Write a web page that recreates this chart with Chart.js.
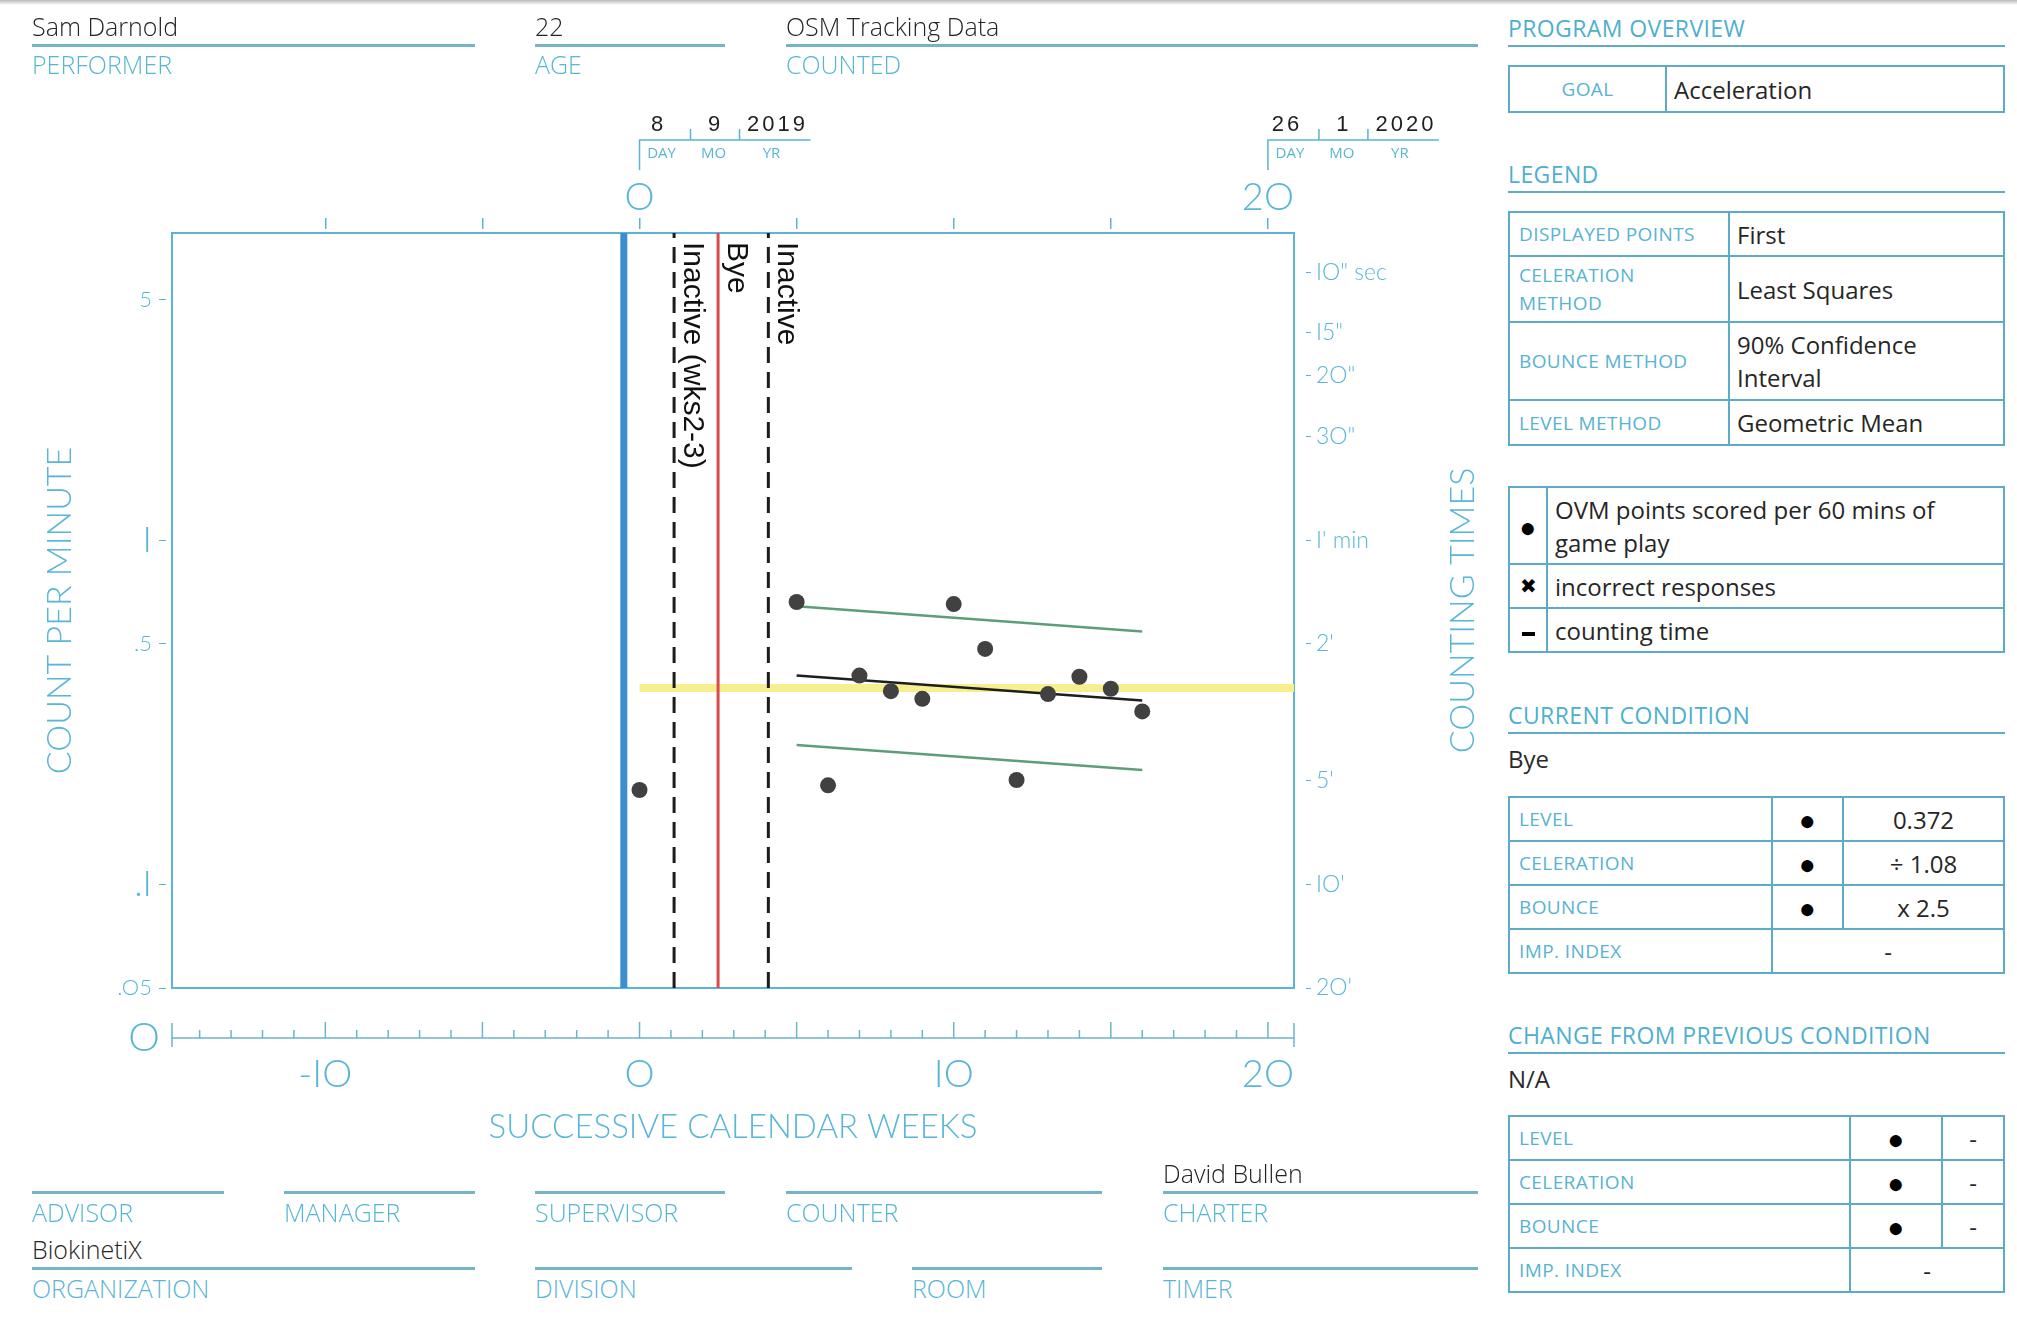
<!DOCTYPE html>
<html>
<head>
<meta charset="utf-8">
<script src="https://cdn.jsdelivr.net/npm/chart.js@4.4.1/dist/chart.umd.min.js"></script>
<style>
  body { margin: 0; width: 2017px; height: 1328px; background: #fff; position: relative; overflow: hidden; font-family: 'Open Sans', sans-serif; }
  #wrap { position: absolute; left: 0; top: 0; width: 1490px; height: 1200px; }
  .shade { position: absolute; left: 0; top: 0; width: 2017px; height: 5px; background: linear-gradient(#b9b9b9, rgba(255,255,255,0)); }
  .t { position: absolute; white-space: nowrap; line-height: 30px; }
  .name { color: #242424; font-size: 25px; font-weight: 300; }
  .field { color: #58b6d5; font-size: 25px; font-weight: 300; }
  .rule { position: absolute; height: 3px; background: #74b4c6; }
  .hd { position: absolute; left: 1508px; line-height: 30px; font-size: 23px; color: #4eafcf; letter-spacing: 0.4px; white-space: nowrap; }
  .hr { position: absolute; left: 1508px; width: 497px; height: 2px; background: #62abc4; }
  .plain { position: absolute; left: 1508px; line-height: 30px; font-size: 24px; color: #2a2a2a; }
  table.box { position: absolute; left: 1508px; width: 497px; border-collapse: collapse; table-layout: fixed; }
  table.box td { border: 2px solid #5eabc9; padding: 0 0 0 9px; vertical-align: middle; }
  table.box td.lab { font-size: 19px; color: #58b3d2; letter-spacing: 0.4px; line-height: 28px; }
  table.box td.val { font-size: 24px; color: #262626; line-height: 33px; padding-left: 7px; }
  table.box td.c { text-align: center; padding: 0; }
  table.box td.sym { text-align: center; padding: 0; font-size: 28px; color: #000; line-height: 28px; }
  .bar { display: inline-block; width: 13px; height: 4px; background: #000; vertical-align: middle; }
</style>
</head>
<body>
<div class="shade"></div>
<div id="wrap"><canvas id="scc" width="1490" height="1200"></canvas></div>

<!-- header -->
<div class="t name" style="left:32px;top:11px">Sam Darnold</div>
<div class="rule" style="left:32px;top:44px;width:443px"></div>
<div class="t field" style="left:32px;top:49px">PERFORMER</div>
<div class="t name" style="left:535px;top:11px">22</div>
<div class="rule" style="left:535px;top:44px;width:190px"></div>
<div class="t field" style="left:535px;top:49px">AGE</div>
<div class="t name" style="left:786px;top:11px">OSM Tracking Data</div>
<div class="rule" style="left:786px;top:44px;width:692px"></div>
<div class="t field" style="left:786px;top:49px">COUNTED</div>

<!-- footer -->
<div class="t name" style="left:1163px;top:1158px">David Bullen</div>
<div class="rule" style="left:32px;top:1191px;width:192px"></div>
<div class="rule" style="left:284px;top:1191px;width:191px"></div>
<div class="rule" style="left:535px;top:1191px;width:190px"></div>
<div class="rule" style="left:786px;top:1191px;width:316px"></div>
<div class="rule" style="left:1163px;top:1191px;width:315px"></div>
<div class="t field" style="left:32px;top:1197px">ADVISOR</div>
<div class="t field" style="left:284px;top:1197px">MANAGER</div>
<div class="t field" style="left:535px;top:1197px">SUPERVISOR</div>
<div class="t field" style="left:786px;top:1197px">COUNTER</div>
<div class="t field" style="left:1163px;top:1197px">CHARTER</div>
<div class="t name" style="left:32px;top:1234px">BiokinetiX</div>
<div class="rule" style="left:32px;top:1267px;width:443px"></div>
<div class="rule" style="left:535px;top:1267px;width:317px"></div>
<div class="rule" style="left:912px;top:1267px;width:190px"></div>
<div class="rule" style="left:1163px;top:1267px;width:315px"></div>
<div class="t field" style="left:32px;top:1273px">ORGANIZATION</div>
<div class="t field" style="left:535px;top:1273px">DIVISION</div>
<div class="t field" style="left:912px;top:1273px">ROOM</div>
<div class="t field" style="left:1163px;top:1273px">TIMER</div>

<!-- right panel -->
<div class="hd" style="top:13px">PROGRAM OVERVIEW</div>
<div class="hr" style="top:45px"></div>
<table class="box" style="top:65px">
  <tr style="height:46px"><td class="lab c" style="width:155px">GOAL</td><td class="val">Acceleration</td></tr>
</table>

<div class="hd" style="top:159px">LEGEND</div>
<div class="hr" style="top:191px"></div>
<table class="box" style="top:211px">
  <tr style="height:44px"><td class="lab" style="width:209px">DISPLAYED POINTS</td><td class="val">First</td></tr>
  <tr style="height:66px"><td class="lab">CELERATION<br>METHOD</td><td class="val">Least Squares</td></tr>
  <tr style="height:78px"><td class="lab">BOUNCE METHOD</td><td class="val">90% Confidence<br>Interval</td></tr>
  <tr style="height:45px"><td class="lab">LEVEL METHOD</td><td class="val">Geometric Mean</td></tr>
</table>

<table class="box" style="top:486px">
  <tr style="height:77px"><td class="sym" style="width:36px">●</td><td class="val">OVM points scored per 60 mins of<br>game play</td></tr>
  <tr style="height:44px"><td class="sym" style="font-size:20px">✖</td><td class="val">incorrect responses</td></tr>
  <tr style="height:44px"><td class="sym"><span class="bar"></span></td><td class="val">counting time</td></tr>
</table>

<div class="hd" style="top:700px">CURRENT CONDITION</div>
<div class="hr" style="top:732px"></div>
<div class="plain" style="top:744px">Bye</div>
<table class="box" style="top:796px">
  <tr style="height:44px"><td class="lab" style="width:252px">LEVEL</td><td class="sym" style="width:69px">●</td><td class="val c">0.372</td></tr>
  <tr style="height:44px"><td class="lab">CELERATION</td><td class="sym">●</td><td class="val c">÷ 1.08</td></tr>
  <tr style="height:44px"><td class="lab">BOUNCE</td><td class="sym">●</td><td class="val c">x 2.5</td></tr>
  <tr style="height:44px"><td class="lab">IMP. INDEX</td><td class="val c" colspan="2">-</td></tr>
</table>

<div class="hd" style="top:1020px">CHANGE FROM PREVIOUS CONDITION</div>
<div class="hr" style="top:1052px"></div>
<div class="plain" style="top:1064px">N/A</div>
<table class="box" style="top:1115px">
  <tr style="height:44px"><td class="lab" style="width:330px">LEVEL</td><td class="sym" style="width:90px">●</td><td class="val c">-</td></tr>
  <tr style="height:44px"><td class="lab">CELERATION</td><td class="sym">●</td><td class="val c">-</td></tr>
  <tr style="height:44px"><td class="lab">BOUNCE</td><td class="sym">●</td><td class="val c">-</td></tr>
  <tr style="height:44px"><td class="lab">IMP. INDEX</td><td class="val c" colspan="2">-</td></tr>
</table>

<script>
// weekly data (weeks since 8/9/2019)
const weeks = [0, 5, 6, 7, 8, 9, 10, 11, 12, 13, 14, 15, 16];
const ovmPoints = [0.188, 0.661, 0.194, 0.404, 0.364, 0.346, 0.652, 0.483, 0.201, 0.357, 0.401, 0.370, 0.318];

const celerationWeeks = [5, 16];
const celerationLine = [0.404, 0.342];
const bounceUpper = [0.642, 0.543];
const bounceLower = [0.254, 0.215];

const levelWeeks = [0, 20.83];
const levelLine = [0.372, 0.372];

const phaseWeeks = [-0.5, 1.1, 2.5, 4.1];
const phaseNames = ['', 'Inactive (wks2-3)', 'Bye', 'Inactive'];

const weekMin = -14.88;
const weekMax = 20.83;
const countMin = 0.05;
const countMax = 7.8;

const bottomTicks = [-10, 0, 10, 20];
const bottomLabels = ['-IO', 'O', 'IO', '2O'];
const topTicks = [-10, -5, 0, 5, 10, 15, 20];
const topLabels = ['', '', 'O', '', '', '', '2O'];
const countTicks = [5, 1, 0.5, 0.1, 0.05];
const countLabels = ['5', 'I', '.5', '.I', '.O5'];
const timeTicks = [6, 4, 3, 2, 1, 0.5, 0.2, 0.1, 0.05];
const timeLabels = ['IO" sec', 'I5"', '2O"', '3O"', "I' min", "2'", "5'", "IO'", "2O'"];

const dateWeeks = [0, 20];
const dateParts = [['8', '9', '2019'], ['26', '1', '2020']];
const dateNames = ['DAY', 'MO', 'YR'];

const blue = '#5ab6d6';
const axisBlue = '#5cb3d4';

const pairs = (xs, ys) => xs.map((v, i) => ({ x: v, y: ys[i] }));

const phaseStyle = [
    { color: '#3d8ecf', width: 7, dash: [] },
    { color: '#1c1c1c', width: 3, dash: [16, 9] },
    { color: '#d9494e', width: 3, dash: [] },
    { color: '#1c1c1c', width: 3, dash: [16, 9] }
];

const datasets = [
    {
        label: 'OVM points scored per 60 mins of game play',
        data: pairs(weeks, ovmPoints),
        pointRadius: 8,
        pointBackgroundColor: '#414141',
        pointBorderWidth: 0
    },
    {
        label: 'celeration',
        data: pairs(celerationWeeks, celerationLine),
        showLine: true, pointRadius: 0,
        borderColor: '#1e1e1e', borderWidth: 2.5
    },
    {
        label: 'upper bounce',
        data: pairs(celerationWeeks, bounceUpper),
        showLine: true, pointRadius: 0,
        borderColor: '#5f9d78', borderWidth: 2.5
    },
    {
        label: 'lower bounce',
        data: pairs(celerationWeeks, bounceLower),
        showLine: true, pointRadius: 0,
        borderColor: '#5f9d78', borderWidth: 2.5
    }
];

phaseWeeks.forEach((w, i) => {
    datasets.push({
        label: phaseNames[i] || 'phase',
        data: [{ x: w, y: countMin }, { x: w, y: countMax }],
        showLine: true, pointRadius: 0,
        borderColor: phaseStyle[i].color,
        borderWidth: phaseStyle[i].width,
        borderDash: phaseStyle[i].dash
    });
});

datasets.push({
    label: 'level',
    data: pairs(levelWeeks, levelLine),
    showLine: true, pointRadius: 0,
    borderColor: '#f7ef8f', borderWidth: 8
});

const decor = {
    id: 'decor',
    afterDraw(chart) {
        const { ctx, chartArea: area, scales: { x, x2 } } = chart;
        ctx.save();

        // secondary weeks line under the chart
        const axisY = area.bottom + 50;
        ctx.strokeStyle = '#6db4ca';
        ctx.lineWidth = 1.5;
        ctx.beginPath();
        ctx.moveTo(area.left, axisY);
        ctx.lineTo(area.right, axisY);
        for (let w = Math.ceil(weekMin); w <= Math.floor(weekMax); w++) {
            const px = x.getPixelForValue(w);
            const h = w % 5 === 0 ? 16 : 8;
            ctx.moveTo(px, axisY);
            ctx.lineTo(px, axisY - h);
        }
        [area.left, area.right].forEach(px => {
            ctx.moveTo(px, axisY - 15);
            ctx.lineTo(px, axisY + 9);
        });
        ctx.stroke();
        ctx.fillStyle = blue;
        ctx.font = '300 40px Lato';
        ctx.textAlign = 'center';
        ctx.textBaseline = 'middle';
        ctx.fillText('O', area.left - 28, axisY);

        // start / end dates
        dateWeeks.forEach((w, i) => {
            const x0 = x2.getPixelForValue(w);
            const lineY = area.top - 93;
            ctx.strokeStyle = '#5ab3d3';
            ctx.lineWidth = 1.5;
            ctx.beginPath();
            ctx.moveTo(x0, area.top - 63);
            ctx.lineTo(x0, lineY);
            ctx.lineTo(x0 + 171, lineY);
            [51, 100].forEach(o => {
                ctx.moveTo(x0 + o, lineY);
                ctx.lineTo(x0 + o, lineY - 11);
            });
            ctx.stroke();
            ctx.fillStyle = '#1f1f1f';
            ctx.font = '22px "Liberation Sans"';
            ctx.letterSpacing = '3px';
            [19, 76, 138].forEach((o, j) => ctx.fillText(dateParts[i][j], x0 + o, area.top - 108));
            ctx.letterSpacing = '0px';
            ctx.fillStyle = blue;
            ctx.font = '15px "Open Sans"';
            [22, 74, 132].forEach((o, j) => ctx.fillText(dateNames[j], x0 + o, area.top - 79));
        });

        // phase change labels
        ctx.fillStyle = '#111';
        ctx.font = '30px "Liberation Sans"';
        ctx.textAlign = 'left';
        phaseWeeks.forEach((w, i) => {
            if (!phaseNames[i]) return;
            ctx.save();
            ctx.translate(x.getPixelForValue(w) + 18, area.top + 9);
            ctx.rotate(Math.PI / 2);
            ctx.fillText(phaseNames[i], 0, 0);
            ctx.restore();
        });

        // counting times title
        ctx.save();
        ctx.translate(area.right + 169, (area.top + area.bottom) / 2);
        ctx.rotate(-Math.PI / 2);
        ctx.textAlign = 'center';
        ctx.fillStyle = blue;
        ctx.font = '300 34px Lato';
        ctx.fillText('COUNTING TIMES', 0, 0);
        ctx.restore();

        ctx.restore();
    }
};

const bigFont = { family: 'Lato', size: 38, weight: '300', lineHeight: 1 };

new Chart(document.getElementById('scc'), {
    type: 'scatter',
    data: { datasets: datasets },
    options: {
        responsive: false,
        animation: false,
        events: [],
        layout: { padding: 0 },
        plugins: { legend: { display: false }, tooltip: { enabled: false } },
        scales: {
            x: {
                type: 'linear', position: 'bottom', min: weekMin, max: weekMax,
                afterBuildTicks: s => { s.ticks = bottomTicks.map(v => ({ value: v })); },
                afterFit: s => { s.height = 212; },
                grid: { display: false, drawTicks: false },
                border: { color: axisBlue, width: 2 },
                ticks: {
                    autoSkip: false, maxRotation: 0, padding: 68, color: blue, font: bigFont,
                    callback: (v, i) => bottomLabels[i]
                },
                title: {
                    display: true, text: 'SUCCESSIVE CALENDAR WEEKS', color: blue,
                    font: { family: 'Lato', size: 33, weight: '300', lineHeight: 1.2 },
                    padding: { top: 0, bottom: 53 }
                }
            },
            x2: {
                type: 'linear', position: 'top', min: weekMin, max: weekMax,
                afterBuildTicks: s => { s.ticks = topTicks.map(v => ({ value: v })); },
                afterFit: s => { s.height = 233; },
                grid: { drawOnChartArea: false, color: axisBlue, lineWidth: 1.5, tickLength: 15, tickBorderDash: [11, 100] },
                border: { color: axisBlue, width: 2 },
                ticks: {
                    autoSkip: false, maxRotation: 0, padding: 1, color: blue, font: bigFont,
                    callback: (v, i) => topLabels[i]
                }
            },
            y: {
                type: 'logarithmic', position: 'left', min: countMin, max: countMax,
                afterBuildTicks: s => { s.ticks = countTicks.map(v => ({ value: v })); },
                afterFit: s => { s.width = 172; },
                grid: { drawOnChartArea: false, color: axisBlue, lineWidth: 1, tickLength: 13, tickBorderDash: [7, 100] },
                border: { color: axisBlue, width: 2 },
                ticks: {
                    autoSkip: false, padding: 7, color: blue,
                    font: c => ({ family: 'Lato', weight: '300', size: (countLabels[c.index] || '').includes('I') ? 36 : 22 }),
                    callback: (v, i) => countLabels[i]
                },
                title: {
                    display: true, text: 'COUNT PER MINUTE', color: blue,
                    font: { family: 'Lato', size: 34, weight: '300', lineHeight: 1.2 },
                    padding: { top: 40, bottom: 0 }
                }
            },
            y2: {
                type: 'logarithmic', position: 'right', min: countMin, max: countMax,
                afterBuildTicks: s => { s.ticks = timeTicks.map(v => ({ value: v })); },
                afterFit: s => { s.width = 196; },
                grid: { drawOnChartArea: false, color: axisBlue, lineWidth: 1, tickLength: 17, tickBorderDash: [0, 11, 5, 100] },
                border: { color: axisBlue, width: 2 },
                ticks: {
                    autoSkip: false, padding: 5, color: blue,
                    font: { family: 'Lato', size: 23, weight: '300' },
                    callback: (v, i) => timeLabels[i]
                }
            }
        }
    },
    plugins: [decor]
});
</script>
</body>
</html>
